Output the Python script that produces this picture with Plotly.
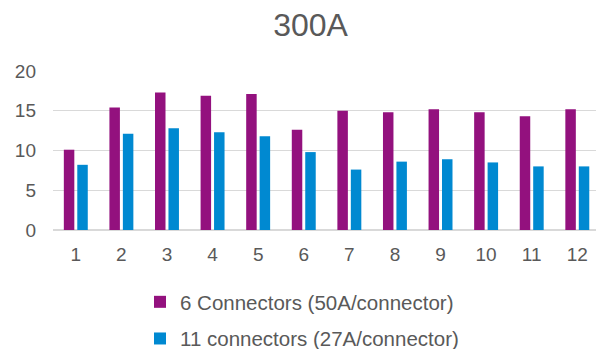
import plotly.graph_objects as go

# Test positions 1..12 and measured values for the two connector layouts at 300A
positions = [1, 2, 3, 4, 5, 6, 7, 8, 9, 10, 11, 12]
six_connectors = [10.1, 15.4, 17.3, 16.9, 17.1, 12.6, 15.0, 14.8, 15.2, 14.8, 14.3, 15.2]
eleven_connectors = [8.2, 12.1, 12.8, 12.3, 11.8, 9.8, 7.6, 8.6, 8.9, 8.5, 8.0, 8.0]
tick_values = [0, 5, 10, 15, 20]

series_names = ["6 Connectors (50A/connector)", "11 connectors (27A/connector)"]
series_colors = ["#93117E", "#0089D1"]

text_color = "#595959"
grid_color = "#D9D9D9"
font_family = "Liberation Sans, Arial, sans-serif"

fig = go.Figure()
for name, values, color in zip(series_names, [six_connectors, eleven_connectors], series_colors):
    fig.add_trace(go.Bar(
        x=positions,
        y=values,
        name=name,
        legendgroup=name,
        marker=dict(color=color, line=dict(width=0)),
    ))

fig.update_layout(
    width=596,
    height=349,
    margin=dict(l=53, r=0, t=71, b=119, autoexpand=False),
    paper_bgcolor="white",
    plot_bgcolor="white",
    font=dict(family=font_family, color=text_color),
    barmode="group",
    bargap=0.41,
    bargroupgap=0.22,
    title=dict(
        text="300A",
        font=dict(size=32, color=text_color, family=font_family),
        x=310.5 / 596,
        xanchor="center",
        xref="container",
        y=1 - 25 / 349,
        yanchor="middle",
        yref="container",
    ),
    legend=dict(
        orientation="v",
        xref="container",
        yref="container",
        x=140 / 596,
        xanchor="left",
        y=1 - 282 / 349,
        yanchor="top",
        font=dict(size=20.5, color=text_color, family=font_family),
        tracegroupgap=7,
        itemwidth=30,
        bgcolor="rgba(0,0,0,0)",
    ),
    showlegend=True,
)

fig.update_xaxes(
    range=[0.5, 12.41],
    tickmode="array",
    tickvals=positions,
    ticktext=[str(p) for p in positions],
    tickangle=0,
    showgrid=False,
    showline=False,
    zeroline=False,
    ticks="",
    ticklabelstandoff=11,
    tickfont=dict(size=19, color=text_color, family=font_family),
)

fig.update_yaxes(
    range=[0, 20],
    tickmode="array",
    tickvals=tick_values,
    showgrid=True,
    gridcolor=grid_color,
    gridwidth=1,
    zeroline=True,
    zerolinecolor=grid_color,
    zerolinewidth=1.6,
    showline=False,
    ticks="",
    ticklabelstandoff=16,
    tickfont=dict(size=19, color=text_color, family=font_family),
)

fig.write_html("out.html")
